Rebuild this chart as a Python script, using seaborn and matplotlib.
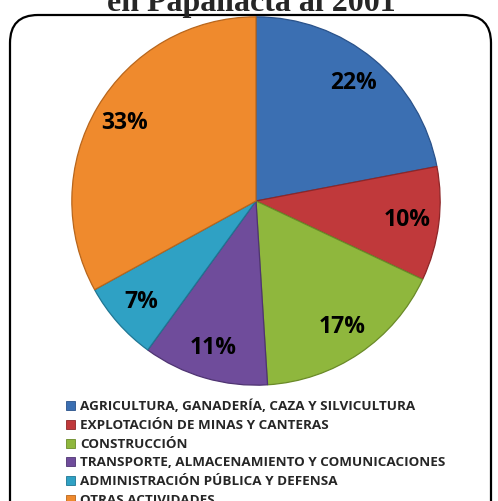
import matplotlib
matplotlib.use("Agg")
import matplotlib.pyplot as plt
import matplotlib.patches as mpatches
import seaborn as sns
import numpy as np

sns.set_theme(style="white")
plt.rcParams['font.family'] = ['Open Sans', 'DejaVu Sans']

# data
sectores = ['AGRICULTURA, GANADERÍA, CAZA Y SILVICULTURA',
            'EXPLOTACIÓN DE MINAS Y CANTERAS',
            'CONSTRUCCIÓN',
            'TRANSPORTE, ALMACENAMIENTO Y COMUNICACIONES',
            'ADMINISTRACIÓN PÚBLICA Y DEFENSA',
            'OTRAS ACTIVIDADES']
porcentajes = [22, 10, 17, 11, 7, 33]
colores = ['#3b6fb2', '#c0393b', '#8fb73d', '#6f4c9b', '#2fa1c4', '#ef8a2d']
bordes = ['#2a528a', '#8e2628', '#6a8a28', '#4f3472', '#1f7693', '#b8661c']

fig = plt.figure(figsize=(4.98, 5.01), dpi=100)

# rounded frame (partly cut off at the bottom)
marco = mpatches.FancyBboxPatch((0.10, -0.3), 4.81, 5.16,
                                boxstyle="round,pad=0,rounding_size=0.28",
                                transform=fig.dpi_scale_trans,
                                facecolor='none', edgecolor='black', lw=1.6, zorder=-1)
fig.patches.append(marco)

fig.text(0.505, 1 - 11 / 501, 'en Papallacta al 2001', ha='center', va='baseline',
         fontsize=23, fontweight='bold', family=['Liberation Serif', 'DejaVu Serif'])

ax = fig.add_axes([70 / 498, (501 - 201 - 186) / 501, 372 / 498, 372 / 501])
wedges, texts, autotexts = ax.pie(porcentajes, colors=colores, startangle=90,
                                  counterclock=False, radius=1,
                                  autopct='%d%%', pctdistance=0.83,
                                  wedgeprops=dict(linewidth=0.9),
                                  textprops=dict(fontsize=16.5, fontweight='bold', color='black'))
for w, b in zip(wedges, bordes):
    w.set_edgecolor(b)
ax.set_xlim(-1.01, 1.01)
ax.set_ylim(-1.01, 1.01)
ax.set_aspect('equal')
ax.axis('off')

handles = [mpatches.Patch(facecolor=c, edgecolor=b, lw=0.6) for c, b in zip(colores, bordes)]
fig.legend(handles, sectores, loc='upper left', bbox_to_anchor=(66 / 498, 1 - 400 / 501),
           frameon=False, prop=dict(weight='bold', size=9.7),
           handlelength=0.65, handleheight=0.65, handletextpad=0.4,
           labelspacing=0.42, borderpad=0, borderaxespad=0)

fig.savefig('out.png', dpi=100)
